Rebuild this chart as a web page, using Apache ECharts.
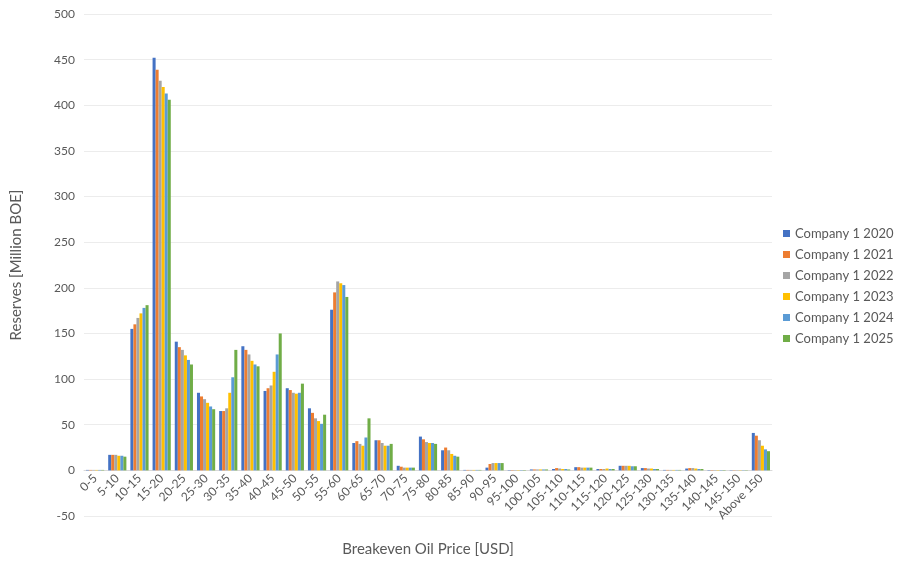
<!DOCTYPE html>
<html><head><meta charset="utf-8">
<script src="https://cdn.jsdelivr.net/npm/echarts@6/dist/echarts.min.js"></script>
<style>html,body{margin:0;padding:0;background:#fff}#c{width:905px;height:564px}</style>
</head><body><div id="c"></div>
<script>
var categories = ['0-5','5-10','10-15','15-20','20-25','25-30','30-35','35-40','40-45','45-50','50-55','55-60','60-65','65-70','70-75','75-80','80-85','85-90','90-95','95-100','100-105','105-110','110-115','115-120','120-125','125-130','130-135','135-140','140-145','145-150','Above 150'];
var seriesNames = ['Company 1 2020','Company 1 2021','Company 1 2022','Company 1 2023','Company 1 2024','Company 1 2025'];
var y2020 = [0.5,17,155,452,141,85,65,136,87,90,68,176,30,33,5,37,22,0.5,3,0.4,1,1.5,3.5,1.5,5,2.5,0.5,2,0.4,0.3,41];
var y2021 = [0.5,17,160,439,135,81,65,132,90,88,63,195,32,33,4,34,25,0.5,7,0.4,1,2.5,3.5,1.5,5,2.5,0.5,2.5,0.4,0.3,38];
var y2022 = [0.5,17,167,427,132,78,68,127,93,85,57,207,29,30,3,31,22,0.5,8,0.4,1,2,3,1.5,5,2,0.5,2.5,0.4,0.3,33];
var y2023 = [0.5,16,172,420,126,74,85,120,108,84,54,205,27,27,3,30,18,0.5,8,0.4,1,1.5,3,2,5,2,0.5,2,0.4,0.3,27];
var y2024 = [0.5,16,178,413,121,70,102,116,127,85,51,203,36,27,3,30,16,0.5,8,0.4,1,1.5,3,1.5,4.5,1.5,0.5,1.5,0.4,0.3,23];
var y2025 = [0.5,15,181,406,116,67,132,114,150,95,61,190,57,29,3,29,15,0.5,8,0.4,1,1,3,1.5,4.5,1.5,0.5,1.5,0.4,0.3,21];
var colors = ['#4472C4','#ED7D31','#A5A5A5','#FFC000','#5B9BD5','#70AD47'];
var allData = [y2020,y2021,y2022,y2023,y2024,y2025];
var font = 'Lato, "Open Sans", sans-serif';
var gridTop = 14, gridBottom = 48, H = 564;
var zeroOffset = (H - gridTop - gridBottom) * 50 / 550;
var chart = echarts.init(document.getElementById('c'));
chart.setOption({
  animation:false,
  color:colors,
  textStyle:{fontFamily:font},
  grid:{left:84,right:133,top:gridTop,bottom:gridBottom,containLabel:false,outerBoundsMode:'none'},
  legend:{orient:'vertical',left:778,top:222,itemWidth:7,itemHeight:7,itemGap:8,icon:'rect',
    textStyle:{color:'#595959',fontSize:13,fontFamily:font},data:seriesNames},
  xAxis:{type:'category',data:categories,offset:-zeroOffset,
    axisLine:{onZero:false,lineStyle:{color:'#d9d9d9'}},axisTick:{show:false},
    axisLabel:{rotate:45,interval:0,color:'#595959',fontSize:12,margin:6,fontFamily:font},
    name:'Breakeven Oil Price [USD]',nameLocation:'middle',nameGap:71,
    nameTextStyle:{color:'#595959',fontSize:15,fontFamily:font}},
  yAxis:{type:'value',min:-50,max:500,interval:50,
    axisLine:{show:false},axisTick:{show:false},
    splitLine:{lineStyle:{color:'#ececec'}},
    axisLabel:{color:'#595959',fontSize:12,margin:9,fontFamily:font},
    name:'Reserves [Million BOE]',nameLocation:'middle',nameGap:60,
    nameTextStyle:{color:'#595959',fontSize:15,fontFamily:font}},
  series:seriesNames.map(function(n,i){return {name:n,type:'bar',data:allData[i],barGap:'0%',barCategoryGap:'18%'};})
});
</script></body></html>
